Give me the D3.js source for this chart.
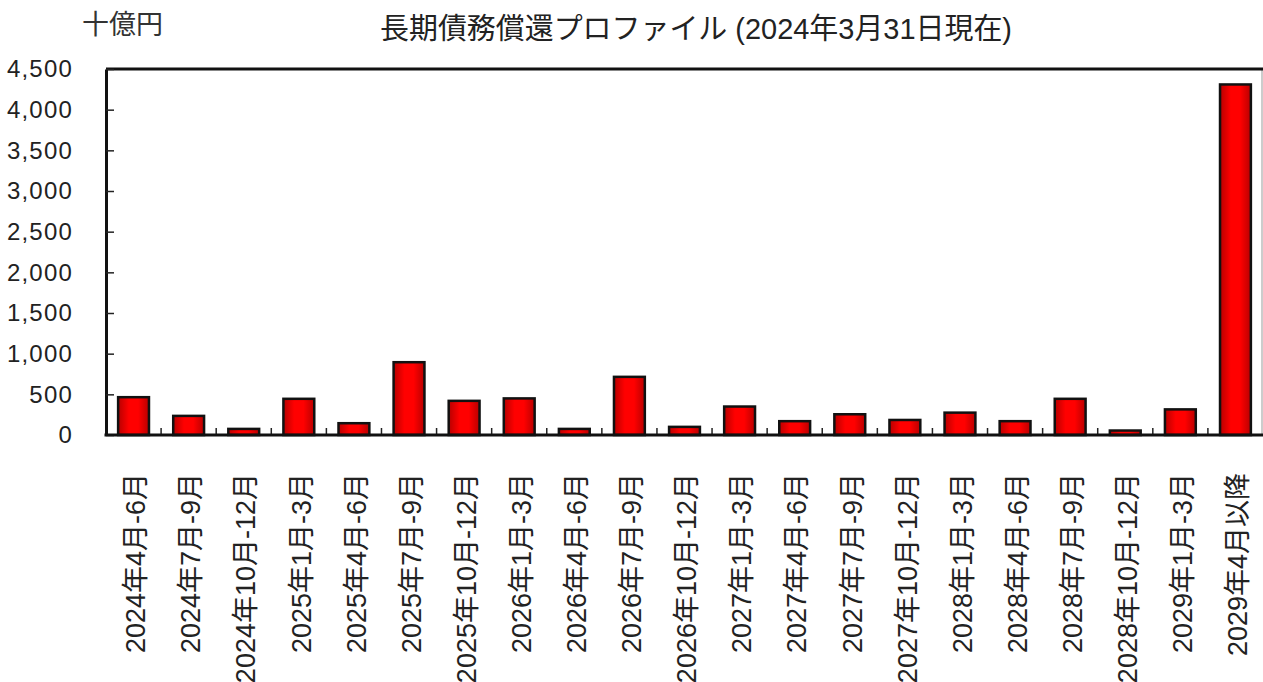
<!DOCTYPE html>
<html>
<head>
<meta charset="utf-8">
<script src="https://cdn.jsdelivr.net/npm/d3@7.9.0/dist/d3.min.js"></script>
<style>
  body { margin: 0; background: #fff; }
  svg { display: block; font-family: "Liberation Sans", Arial, "Noto Sans CJK JP", sans-serif; }
</style>
</head>
<body>
<svg id="chart" width="1263" height="682"></svg>
<script>
// Categories (quarters) and redemption amounts (十億円)
const categories = [
  "2024年4月-6月", "2024年7月-9月", "2024年10月-12月",
  "2025年1月-3月", "2025年4月-6月", "2025年7月-9月", "2025年10月-12月",
  "2026年1月-3月", "2026年4月-6月", "2026年7月-9月", "2026年10月-12月",
  "2027年1月-3月", "2027年4月-6月", "2027年7月-9月", "2027年10月-12月",
  "2028年1月-3月", "2028年4月-6月", "2028年7月-9月", "2028年10月-12月",
  "2029年1月-3月", "2029年4月以降"
];
const values = [465, 235, 75, 445, 145, 895, 420, 450, 75, 715, 100,
                350, 170, 255, 185, 275, 170, 445, 55, 315, 4310];
const yTicks = [0, 500, 1000, 1500, 2000, 2500, 3000, 3500, 4000, 4500];

const titleText = "長期債務償還プロファイル (2024年3月31日現在)";
const unitText = "十億円";

const svg = d3.select("#chart");

// plot area
const plotLeft = 106, plotRight = 1263, plotTop = 69, plotBottom = 435;

const x = d3.scaleBand()
  .domain(categories)
  .range([plotLeft, plotRight])
  .paddingInner(0.44)
  .paddingOuter(0.22);

const y = d3.scaleLinear().domain([0, 4500]).range([plotBottom, plotTop]);

// gradient for the bars (darker edges)
const grad = svg.append("defs").append("linearGradient")
  .attr("id", "barGrad").attr("x1", "0").attr("x2", "1").attr("y1", "0").attr("y2", "0");
grad.append("stop").attr("offset", "0%").attr("stop-color", "#b80000");
grad.append("stop").attr("offset", "35%").attr("stop-color", "#ff0000");
grad.append("stop").attr("offset", "65%").attr("stop-color", "#ff0000");
grad.append("stop").attr("offset", "100%").attr("stop-color", "#b80000");

// right border (thin) and top border (thick)
svg.append("line")
  .attr("x1", plotRight - 1).attr("x2", plotRight - 1)
  .attr("y1", plotTop).attr("y2", plotBottom)
  .attr("stroke", "#999").attr("stroke-width", 1);
svg.append("line")
  .attr("x1", plotLeft).attr("x2", plotRight)
  .attr("y1", plotTop).attr("y2", plotTop)
  .attr("stroke", "#111").attr("stroke-width", 3);

// bars
svg.append("g")
  .selectAll("rect")
  .data(values)
  .join("rect")
  .attr("x", (d, i) => x(categories[i]))
  .attr("y", d => y(d))
  .attr("width", x.bandwidth())
  .attr("height", d => y(0) - y(d))
  .attr("fill", "url(#barGrad)")
  .attr("stroke", "#111")
  .attr("stroke-width", 2.5);

// x tick marks between categories
const gap = (x.step() - x.bandwidth()) / 2;
svg.append("g")
  .selectAll("line")
  .data(categories.slice(1))
  .join("line")
  .attr("x1", d => x(d) - gap)
  .attr("x2", d => x(d) - gap)
  .attr("y1", plotBottom)
  .attr("y2", plotBottom - 7)
  .attr("stroke", "#222")
  .attr("stroke-width", 1.5);

// y axis
const yAxis = svg.append("g")
  .attr("transform", `translate(${plotLeft},0)`)
  .call(d3.axisLeft(y).tickValues(yTicks).tickSizeInner(-8).tickSizeOuter(0)
    .tickPadding(33).tickFormat(d3.format(",")));
yAxis.select(".domain").attr("stroke", "#111").attr("stroke-width", 3);
yAxis.selectAll(".tick line").attr("stroke", "#222").attr("stroke-width", 1.5);
yAxis.selectAll(".tick text")
  .attr("font-size", 24)
  .attr("letter-spacing", 1.2)
  .attr("fill", "#222")
  .attr("font-family", "'Liberation Sans', Arial, sans-serif");

// bottom axis line
svg.append("line")
  .attr("x1", plotLeft - 1.5).attr("x2", plotRight)
  .attr("y1", plotBottom).attr("y2", plotBottom)
  .attr("stroke", "#111").attr("stroke-width", 3);

// x labels (vertical)
svg.append("g")
  .selectAll("text")
  .data(categories)
  .join("text")
  .attr("transform", d => `translate(${x(d) + x.bandwidth() / 2 + 2},473) rotate(-90)`)
  .attr("text-anchor", "end")
  .attr("dy", "0.36em")
  .attr("font-size", 27)
  .attr("fill", "#222")
  .text(d => d);

// unit label
svg.append("text")
  .attr("x", 82).attr("y", 34)
  .attr("font-size", 27)
  .attr("fill", "#333")
  .text(unitText);

// title
svg.append("text")
  .attr("x", 380).attr("y", 39)
  .attr("font-size", 29)
  .attr("textLength", 632)
  .attr("lengthAdjust", "spacingAndGlyphs")
  .attr("fill", "#222")
  .text(titleText);
</script>
</body>
</html>
